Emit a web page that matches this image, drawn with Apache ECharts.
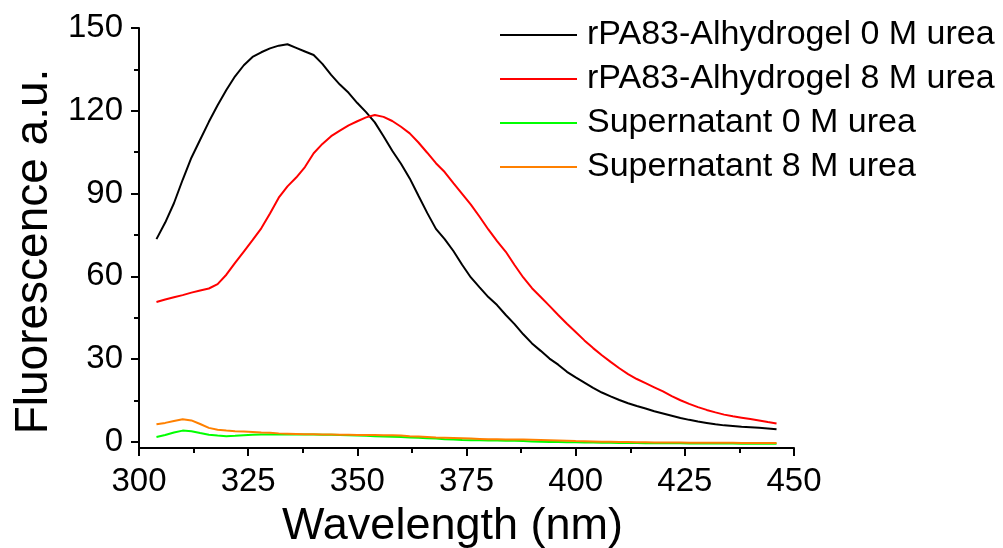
<!DOCTYPE html>
<html>
<head>
<meta charset="utf-8">
<script src="https://cdn.jsdelivr.net/npm/echarts@6/dist/echarts.min.js"></script>
<style>
html,body{margin:0;padding:0;background:#fff;}
#chart{width:1003px;height:548px;}
</style>
</head>
<body>
<div id="chart"></div>
<script>
var wavelengths = [304,306,308,310,312,314,316,318,320,322,
324,326,328,330,332,334,336,338,340,342,
344,346,348,350,352,354,356,358,360,362,
364,366,368,370,372,374,376,378,380,382,
384,386,388,390,392,394,396,398,400,402,
404,406,408,410,412,414,416,418,420,422,
424,426,428,430,432,434,436,438,440,442,
444,446];

var rpa0 = [73.5,79.5,86.5,95,103,109.5,116,122,127.5,132.5,
136.5,139.5,141.2,142.6,143.6,144.1,142.8,141.5,140.2,137,
133,129.5,126.5,122.8,119.5,115.8,110.8,105.5,100.8,95.5,
89.2,83,77.2,73.5,69.2,64.2,59.6,56,52.5,49.6,
46,42.7,39,35.7,33,30.2,28,25.4,23.4,21.5,
19.6,17.9,16.5,15.2,14,13,12.1,11.1,10.3,9.5,
8.7,8,7.4,6.9,6.4,6,5.8,5.5,5.3,5.1,
4.9,4.6];

var rpa8 = [50.7,51.6,52.4,53.2,54.1,54.9,55.6,57.2,60.6,64.9,
69,73.1,77.4,82.8,88.5,92.6,95.8,99.6,104.6,108,
110.8,112.8,114.7,116.2,117.6,118.5,117.8,116.3,114.2,111.8,
108.5,104.8,101,97.8,93.8,89.9,86,81.6,77,72.8,
68.9,64.1,59.6,55.7,52.5,49.3,46,42.8,39.8,36.8,
34,31.4,29,26.7,24.6,22.8,21.3,19.8,18.3,16.6,
15.1,13.8,12.6,11.6,10.7,9.9,9.3,8.8,8.3,7.8,
7.2,6.7];

var sup0 = [1.8,2.5,3.4,4.1,3.9,3.2,2.6,2.3,2.1,2.2,
2.4,2.6,2.7,2.7,2.7,2.7,2.7,2.7,2.7,2.6,
2.6,2.5,2.4,2.3,2.2,2.1,2.0,1.9,1.8,1.6,
1.5,1.3,1.2,1.0,0.9,0.7,0.6,0.6,0.5,0.5,
0.4,0.4,0.3,0.2,0.1,0.0,0.0,-0.1,-0.1,-0.2,
-0.2,-0.3,-0.3,-0.4,-0.4,-0.4,-0.5,-0.5,-0.5,-0.5,
-0.5,-0.6,-0.6,-0.6,-0.6,-0.6,-0.6,-0.7,-0.7,-0.7,
-0.7,-0.7];

var sup8 = [6.4,6.9,7.6,8.2,7.8,6.5,5.1,4.4,4.1,3.9,
3.8,3.6,3.4,3.3,3.1,3.0,2.9,2.8,2.8,2.7,
2.7,2.6,2.6,2.5,2.5,2.5,2.4,2.4,2.3,2.1,
2.0,1.8,1.6,1.5,1.4,1.3,1.2,1.1,1.0,0.95,
0.9,0.9,0.85,0.8,0.7,0.6,0.5,0.4,0.3,0.25,
0.2,0.1,0.05,0,0,-0.1,-0.1,-0.2,-0.2,-0.2,
-0.2,-0.3,-0.3,-0.3,-0.3,-0.3,-0.3,-0.4,-0.4,-0.4,
-0.4,-0.4];

var seriesNames = ['rPA83-Alhydrogel 0 M urea','rPA83-Alhydrogel 8 M urea','Supernatant 0 M urea','Supernatant 8 M urea'];
var yMajorTicks = [0,30,60,90,120,150];
var yMinorTicks = [15,45,75,105,135];

var FONT = '"Liberation Sans", Arial, sans-serif';
function pairs(ys){ return wavelengths.map(function(x,i){ return [x, ys[i]]; }); }

var colors = ['#000000','#ff0000','#00ff00','#ff8000'];
var values = [rpa0, rpa8, sup0, sup8];

var chart = echarts.init(document.getElementById('chart'));
chart.setOption({
  animation: false,
  backgroundColor: '#ffffff',
  grid: {left: 139, right: 209, top: 28, bottom: 100, containLabel: false, outerBoundsMode: 'none'},
  legend: {
    orient: 'vertical', left: 500, top: 17, padding: 0,
    icon: 'rect', itemWidth: 77, itemHeight: 2, itemGap: 8,
    textStyle: {fontFamily: FONT, fontSize: 34, color: '#000', lineHeight: 36, padding: [0,0,0,5]},
    data: seriesNames
  },
  xAxis: {
    type: 'value', min: 300, max: 450, interval: 25,
    name: 'Wavelength (nm)', nameLocation: 'middle', nameGap: 56,
    nameTextStyle: {fontFamily: FONT, fontSize: 45, color: '#000', padding: [0,28,0,0]},
    axisLine: {onZero: false, lineStyle: {color: '#000', width: 2}},
    axisTick: {show: true, inside: false, length: 8, lineStyle: {color: '#000', width: 2}},
    minorTick: {show: true, splitNumber: 2, length: 5, lineStyle: {color: '#000', width: 2}},
    axisLabel: {fontFamily: FONT, fontSize: 33, color: '#000', margin: 17},
    splitLine: {show: false}, minorSplitLine: {show: false}
  },
  yAxis: [{
    type: 'value', min: -2.2, max: 150, position: 'left',
    name: 'Fluorescence a.u.', nameLocation: 'middle', nameGap: 80, nameRotate: 90,
    nameTextStyle: {fontFamily: FONT, fontSize: 46, color: '#000', padding: [16,27,0,0]},
    axisLine: {show: true, lineStyle: {color: '#000', width: 2}},
    axisTick: {show: true, inside: false, length: 8, customValues: yMajorTicks, lineStyle: {color: '#000', width: 2}},
    axisLabel: {fontFamily: FONT, fontSize: 33, color: '#000', margin: 16, customValues: yMajorTicks},
    splitLine: {show: false}
  }, {
    type: 'value', min: -2.2, max: 150, position: 'left', offset: 0,
    axisLine: {show: false},
    axisTick: {show: true, inside: false, length: 5, customValues: yMinorTicks, lineStyle: {color: '#000', width: 2}},
    axisLabel: {show: false},
    splitLine: {show: false}
  }],
  series: values.map(function(v, i){
    return {
      name: seriesNames[i], type: 'line', xAxisIndex: 0, yAxisIndex: 0,
      data: pairs(v), showSymbol: false, symbol: 'none', smooth: false,
      itemStyle: {color: colors[i]},
      lineStyle: {color: colors[i], width: 2}
    };
  })
});
</script>
</body>
</html>
